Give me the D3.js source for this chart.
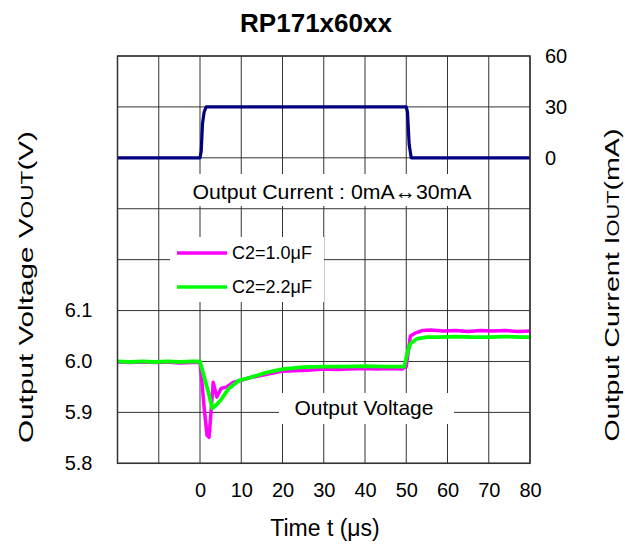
<!DOCTYPE html>
<html>
<head>
<meta charset="utf-8">
<script src="https://cdn.jsdelivr.net/npm/d3@7"></script>
<style>
body { margin: 0; background: #fff; }
text { font-family: "Liberation Sans", Arial, sans-serif; fill: #000; }
</style>
</head>
<body>
<svg width="625" height="545"></svg>
<script>
// tick labels
var timeTicks = [0, 10, 20, 30, 40, 50, 60, 70, 80];
var voltTicks = [5.8, 5.9, 6.0, 6.1];
var currTicks = [0, 30, 60];

// output current (mA)
var currT = [-20, 0, 0.3, 0.6, 1.0, 1.5, 50, 50.3, 50.7, 51.2, 80];
var currI = [0, 0, 4, 20, 27, 30, 30, 27, 8, 0, 0];

// output voltage, C2=1.0uF
var magT = [-20,-17,-14,-11,-8,-5,-2,0,0.5,1,1.7,2.2,2.7,3.2,4.1,5.1,6.5,8,10,12,15,18,20,23,26,30,33,36,40,43,46,49,50,50.3,51,52,54,56,59,62,65,68,71,74,77,80];
var magV = [5.999,5.998,5.999,5.998,5.999,5.997,5.998,5.998,5.957,5.91,5.855,5.851,5.904,5.959,5.93,5.947,5.95,5.959,5.963,5.968,5.973,5.978,5.981,5.982,5.983,5.985,5.984,5.985,5.986,5.985,5.986,5.985,5.99,6.008,6.05,6.055,6.061,6.062,6.06,6.061,6.059,6.061,6.06,6.061,6.059,6.06];

// output voltage, C2=2.2uF
var grnT = [-20,-17,-14,-11,-8,-5,-2,0,1,2,3,4,5,7,9.5,12,16,20,25,30,35,40,45,49.5,50.3,51,52.7,55,58,62,66,70,74,78,80];
var grnV = [6.0,5.999,6.0,5.999,6.0,5.999,6.0,6.0,5.97,5.94,5.908,5.915,5.924,5.947,5.963,5.968,5.978,5.985,5.989,5.99,5.99,5.991,5.99,5.99,6.018,6.035,6.045,6.048,6.048,6.049,6.048,6.048,6.049,6.048,6.048];

var L = 117.5, T = 56, W = 412.5, H = 407.3;
var svg = d3.select("svg");

var x = d3.scaleLinear().domain([-20, 80]).range([L, L + W]);
var yV = d3.scaleLinear().domain([5.8, 6.6]).range([T + H, T]);
var yI = d3.scaleLinear().domain([0, 60]).range([yV(6.4), T]);

// grid
var grid = svg.append("g").attr("stroke", "#333").attr("stroke-width", 1);
grid.selectAll(".vx").data(d3.range(-20, 81, 10)).enter().append("line")
  .attr("x1", d => x(d)).attr("x2", d => x(d)).attr("y1", T).attr("y2", T + H);
grid.selectAll(".hy").data(d3.range(5.8, 6.65, 0.1)).enter().append("line")
  .attr("x1", L).attr("x2", L + W).attr("y1", d => yV(d)).attr("y2", d => yV(d));

// white boxes behind texts
svg.append("rect").attr("x", 186).attr("y", 174).attr("width", 298).attr("height", 32).attr("fill", "#fff");
svg.append("rect").attr("x", 279).attr("y", 393).attr("width", 175).attr("height", 31).attr("fill", "#fff");
svg.append("rect").attr("x", 170).attr("y", 237).attr("width", 154).attr("height", 65).attr("fill", "#fff");

// axes (tick labels only)
function styleTicks(g) {
  g.select(".domain").remove();
  g.selectAll("text").attr("font-size", 20).attr("font-family", null);
}
svg.append("g").attr("transform", "translate(" + (L - 4) + ",0)")
  .call(d3.axisLeft(yV).tickValues(voltTicks).tickFormat(d3.format(".1f")).tickSize(0).tickPadding(21))
  .call(styleTicks);
svg.append("g").attr("transform", "translate(" + (L + W) + ",0)")
  .call(d3.axisRight(yI).tickValues(currTicks).tickSize(0).tickPadding(15))
  .call(styleTicks);
svg.append("g").attr("transform", "translate(0," + (T + H) + ")")
  .call(d3.axisBottom(x).tickValues(timeTicks).tickSize(0).tickPadding(20))
  .call(styleTicks);

// current
var curr = currT.map((t, i) => [t, currI[i]]);
svg.append("path").datum(curr)
  .attr("fill", "none").attr("stroke", "#000080").attr("stroke-width", 3.2).attr("stroke-linejoin", "round")
  .attr("d", d3.line().x(d => x(d[0])).y(d => yI(d[1])));

// voltages
var line = d3.line().x(d => x(d[0])).y(d => yV(d[1]));
svg.append("path").datum(magT.map((t, i) => [t, magV[i]]))
  .attr("fill", "none").attr("stroke", "#ff00ff").attr("stroke-width", 3.5).attr("stroke-linejoin", "round")
  .attr("d", line);
svg.append("path").datum(grnT.map((t, i) => [t, grnV[i]]))
  .attr("fill", "none").attr("stroke", "#00ff00").attr("stroke-width", 3.8).attr("stroke-linejoin", "round")
  .attr("d", line);

// legend
var legend = [["C2=1.0μF", "#ff00ff"], ["C2=2.2μF", "#00ff00"]];
var lg = svg.selectAll(".lg").data(legend).enter().append("g")
  .attr("transform", (d, i) => "translate(177," + (253 + i * 34) + ")");
lg.append("line").attr("x1", 0).attr("x2", 50).attr("stroke", d => d[1]).attr("stroke-width", 3.5);
lg.append("text").attr("x", 55).attr("dy", "0.36em").attr("font-size", 18).text(d => d[0]);

// frame
svg.append("rect").attr("x", L).attr("y", T).attr("width", W).attr("height", H)
  .attr("fill", "none").attr("stroke", "#333").attr("stroke-width", 1.5);

// texts
svg.append("text").attr("x", 316).attr("y", 32).attr("text-anchor", "middle")
  .attr("font-size", 26).attr("font-weight", "bold").text("RP171x60xx");
svg.append("text").attr("x", 332).attr("y", 199).attr("text-anchor", "middle")
  .attr("font-size", 21).attr("textLength", 279).attr("lengthAdjust", "spacingAndGlyphs")
  .text("Output Current : 0mA↔30mA");
svg.append("text").attr("x", 364).attr("y", 415).attr("text-anchor", "middle")
  .attr("font-size", 21).text("Output Voltage");
svg.append("text").attr("x", 325).attr("y", 536).attr("text-anchor", "middle")
  .attr("font-size", 23).text("Time t (μs)");

var ly = svg.append("text").attr("transform", "translate(33,287) rotate(-90)")
  .attr("text-anchor", "middle").attr("font-size", 21)
  .attr("textLength", 312).attr("lengthAdjust", "spacingAndGlyphs");
ly.append("tspan").text("Output Voltage V");
ly.append("tspan").attr("font-size", 16).text("OUT");
ly.append("tspan").text("(V)");

var ry = svg.append("text").attr("transform", "translate(619,285) rotate(-90)")
  .attr("text-anchor", "middle").attr("font-size", 21)
  .attr("textLength", 313).attr("lengthAdjust", "spacingAndGlyphs");
ry.append("tspan").text("Output Current I");
ry.append("tspan").attr("font-size", 16).text("OUT");
ry.append("tspan").text("(mA)");
</script>
</body>
</html>
